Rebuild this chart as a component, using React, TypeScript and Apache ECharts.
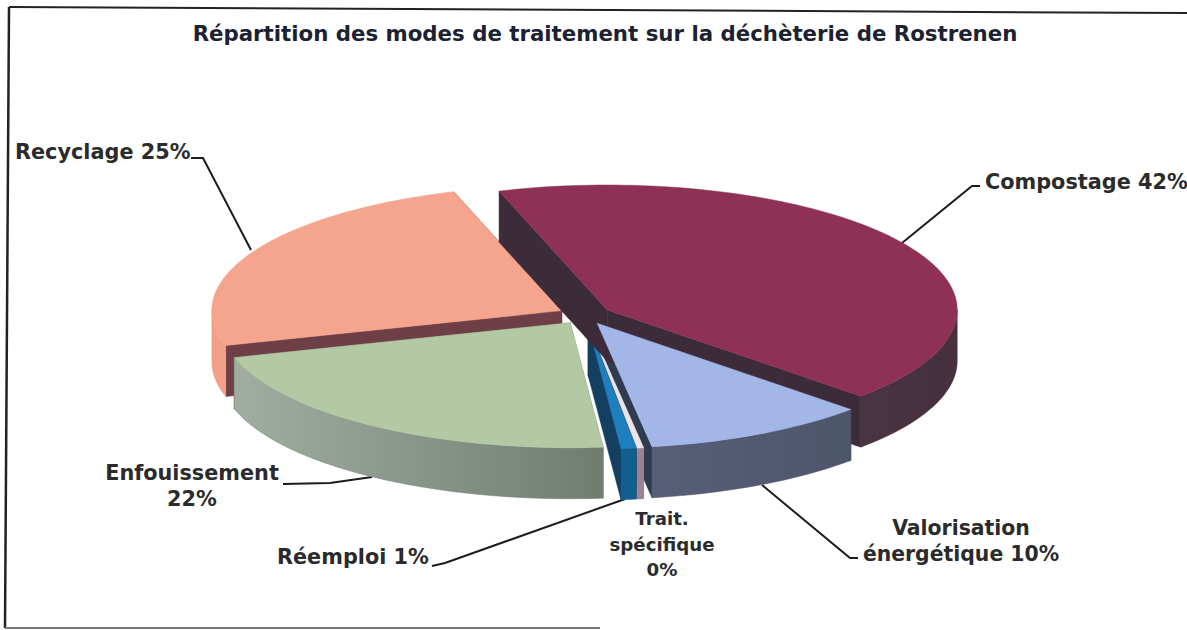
import React, { useEffect, useRef } from "react";
import * as echarts from "echarts";

const titleText = "Répartition des modes de traitement sur la déchèterie de Rostrenen";
const categories = ["Compostage", "Valorisation énergétique", "Trait. spécifique", "Réemploi", "Enfouissement", "Recyclage"];
const shares = [42.1, 10.4, 0.3, 0.7, 22.0, 24.5];
const percentLabels = ["42%", "10%", "0%", "1%", "22%", "25%"];
const topColors = ["#8E3155", "#A3B6E8", "#EDE4EA", "#1F7FBE", "#B2C9A3", "#F5A48D"];
const outerColors = [["#47303E", "#4A3442"], ["#4C566A", "#585E78"], ["#9A8492", "#9A8492"], ["#125E8E", "#125E8E"], ["#6F7D70", "#A2ADA2"], ["#F2A08A", "#F2A08A"]];
const cutColors = ["#3C2C3A", "#2F3B4E", "#8F7A88", "#143F60", "#6E7C6E", "#6F3F48"];
const drawOrder = [5, 4, 1, 2, 3, 0];
const FRONT_SLICE = 1;

const START_DEG = -18, CX = 585, CY = 315, RX = 350, RY = 125, DEPTH = 51, EXPLODE = 0.075;

const total = shares.reduce((a, b) => a + b, 0);
const toDeg = (v: number) => (v / total) * 360;

function pt(ox: number, oy: number, deg: number) {
  const r = (deg * Math.PI) / 180;
  return [ox + RX * Math.sin(r), oy - RY * Math.cos(r)];
}
function arc(ox: number, oy: number, a: number, b: number) {
  const out: number[][] = [];
  const n = Math.max(2, Math.ceil((b - a) / 1.5));
  for (let i = 0; i <= n; i++) out.push(pt(ox, oy, a + ((b - a) * i) / n));
  return out;
}

const renderItem = (_: any, api: any) => {
  const i = api.value(0);
  let a = START_DEG;
  for (let k = 0; k < i; k++) a += toDeg(shares[k]);
  const b = a + toDeg(api.value(1));
  const mid = (a + b) / 2;
  const [ox, oy] = [CX + EXPLODE * (pt(0, 0, mid)[0]), CY + EXPLODE * (pt(0, 0, mid)[1])];
  const low = (p: number[]) => [p[0], p[1] + DEPTH];
  const apex = [ox, oy];
  const base = (drawOrder.indexOf(i) + 1) * 10;
  const faceZ = i === FRONT_SLICE ? 100 : base;
  const children: any[] = [];
  const wall = (deg: number) => {
    const p = pt(ox, oy, deg);
    children.push({
      type: "polygon",
      z2: base,
      shape: { points: [apex, p, low(p), low(apex)] },
      style: { fill: cutColors[i], stroke: cutColors[i], lineWidth: 0.5 },
    });
  };
  wall(a);
  wall(b);
  const fa = Math.max(a, 90), fb = Math.min(b, 270);
  if (fb > fa) {
    const top = arc(ox, oy, fa, fb);
    children.push({
      type: "polygon",
      z2: faceZ + 1,
      shape: { points: [...top, ...top.slice().reverse().map(low)] },
      style: {
        fill: new echarts.graphic.LinearGradient(0, 0, 1, 0, [
          { offset: 0, color: outerColors[i][1] },
          { offset: 1, color: outerColors[i][0] },
        ]),
        stroke: outerColors[i][0],
        lineWidth: 0.5,
      },
    });
  }
  children.push({
    type: "polygon",
    z2: faceZ + 2,
    shape: { points: [apex, ...arc(ox, oy, a, b)] },
    style: { fill: topColors[i], stroke: topColors[i], lineWidth: 0.5 },
  });
  return { type: "group", children };
};

const FONT = "'DejaVu Sans', sans-serif";
const label = (x: number, y: number, text: string, align = "center", size = 20.8) => ({
  type: "text",
  x,
  y,
  silent: true,
  style: { text, x: 0, y: 0, fill: "#2b2b2b", font: `bold ${size}px ${FONT}`, align, verticalAlign: "middle", lineHeight: 25.5 },
});
const leader = (points: number[][]) => ({
  type: "polyline",
  silent: true,
  shape: { points },
  style: { stroke: "#1c1c1c", lineWidth: 2, fill: "none" },
});

export default function App() {
  const ref = useRef<HTMLDivElement>(null);
  useEffect(() => {
    document.body.style.margin = "0";
    const chart = echarts.init(ref.current!, null, { renderer: "svg" });
    chart.setOption({
      animation: false,
      backgroundColor: "#ffffff",
      series: [
        {
          type: "custom",
          coordinateSystem: "none",
          renderItem,
          data: drawOrder.map((i) => ({ name: categories[i], value: [i, shares[i]] })),
        },
      ],
      graphic: [
        { type: "polyline", silent: true, shape: { points: [[9, 7], [1187, 13]] }, style: { stroke: "#222", lineWidth: 2, fill: "none" } },
        { type: "polyline", silent: true, shape: { points: [[9, 7], [5, 628]] }, style: { stroke: "#222", lineWidth: 2.5, fill: "none" } },
        { type: "polyline", silent: true, shape: { points: [[5, 628], [600, 628]] }, style: { stroke: "#777", lineWidth: 2, fill: "none" } },
        {
          type: "text",
          x: 605,
          y: 33,
          silent: true,
          style: { text: titleText, fill: "#1c2230", font: `bold 21.3px ${FONT}`, align: "center", verticalAlign: "middle" },
        },
        leader([[191, 158], [203, 158], [251, 250]]),
        leader([[902, 243], [972, 186], [980, 186]]),
        leader([[283, 484], [330, 483], [372, 477]]),
        leader([[432, 566], [445, 563], [625, 499]]),
        leader([[762, 485], [850, 558], [858, 558]]),
        label(15, 152, `Recyclage ${percentLabels[5]}`, "left"),
        label(985, 182, `Compostage ${percentLabels[0]}`, "left"),
        label(192, 486, `Enfouissement\n${percentLabels[4]}`),
        label(277, 557, `Réemploi ${percentLabels[3]}`, "left"),
        label(662, 544, `Trait.\nspécifique\n${percentLabels[2]}`, "center", 18.2),
        label(961, 541, `Valorisation\nénergétique ${percentLabels[1]}`, "center", 20.4),
      ],
    });
    return () => chart.dispose();
  }, []);
  return <div ref={ref} style={{ position: "absolute", left: 0, top: 0, width: 1187, height: 630 }} />;
}
